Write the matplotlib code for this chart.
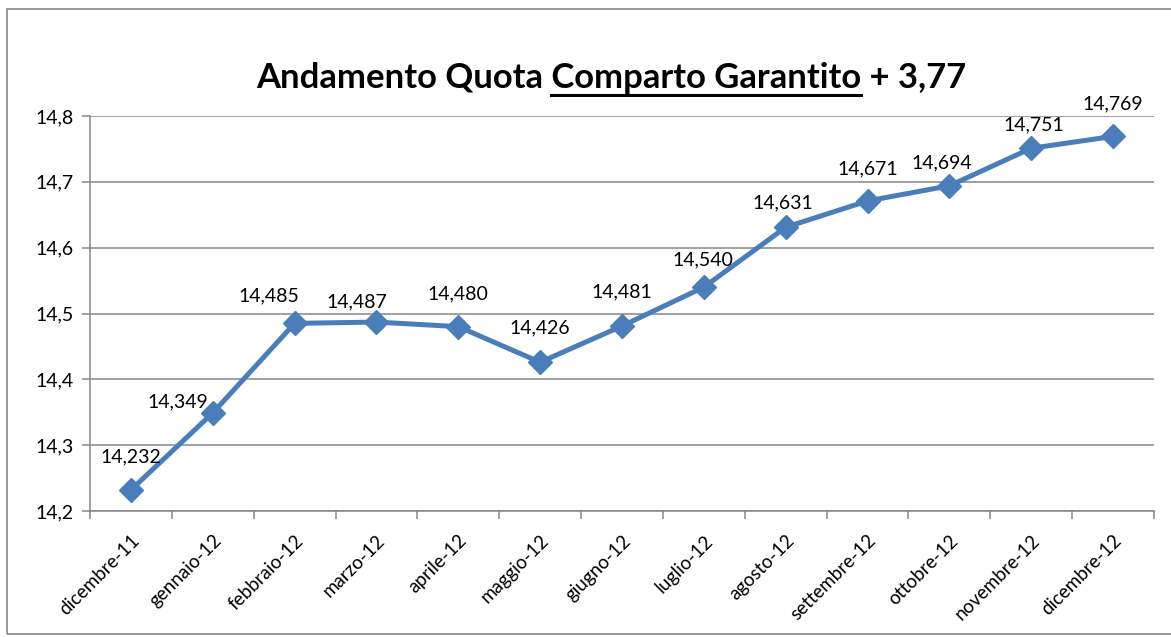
"""Andamento quota comparto garantito - line chart"""

import matplotlib
matplotlib.use("Agg")
import matplotlib.pyplot as plt
from matplotlib.patches import Rectangle
from matplotlib.lines import Line2D
from matplotlib.ticker import FuncFormatter, FixedLocator


months = ["dicembre-11", "gennaio-12", "febbraio-12", "marzo-12", "aprile-12",
          "maggio-12", "giugno-12", "luglio-12", "agosto-12", "settembre-12",
          "ottobre-12", "novembre-12", "dicembre-12"]
quota = [14.232, 14.349, 14.485, 14.487, 14.480, 14.426, 14.481,
         14.540, 14.631, 14.671, 14.694, 14.751, 14.769]
y_ticks = [14.2, 14.3, 14.4, 14.5, 14.6, 14.7, 14.8]

# label nudges (pixels) relative to each point
label_off = [(0, 33), (-35, 11), (-26, 28), (-20, 20), (0, 33), (0, 34), (0, 34),
             (-1, 27), (-3, 24), (0, 32), (-8, 23), (3, 23), (0, 33)]

FONT = "Lato"
BLUE = "#4A7EBB"
GREY = "#868686"
W, H = 1171, 637

plt.rcParams['font.family'] = [FONT, 'DejaVu Sans']

fig = plt.figure(figsize=(W / 100, H / 100), dpi=100)

# outer chart border
fig.patches.append(Rectangle((7 / W, 1 - 634 / H), 1.2, (634 - 9) / H,
                             transform=fig.transFigure, fill=False,
                             edgecolor=GREY, linewidth=1.2))

ax = fig.add_axes([90 / W, 1 - 511 / H, (1154 - 90) / W, (511 - 116) / H])

x = list(range(len(months)))
ax.plot(x, quota, color=BLUE, linewidth=3.6, marker="D", markersize=12.5,
        markerfacecolor=BLUE, markeredgecolor=BLUE, zorder=3)

for xi, v, (dx, dy) in zip(x, quota, label_off):
	ax.annotate(f"{v:.3f}".replace(".", ","), (xi, v), xytext=(dx, dy),
	            textcoords="offset pixels", ha="center", va="center",
	            fontsize=14, color="black")

ax.set_xlim(-0.5, len(months) - 0.5)
ax.set_ylim(14.2, 14.8)
ax.set_yticks(y_ticks)
ax.yaxis.set_major_formatter(FuncFormatter(lambda v, p: f"{v:.1f}".replace(".", ",")))
ax.grid(axis="y", color=GREY, linewidth=1.1)
ax.set_axisbelow(True)

ax.set_xticks(x)
ax.set_xticklabels(months, rotation=45, ha="right", va="top",
                   rotation_mode="anchor", fontsize=13.5)
ax.xaxis.set_minor_locator(FixedLocator([i - 0.5 for i in range(len(months) + 1)]))
ax.tick_params(axis="x", which="major", length=0, pad=15)
ax.tick_params(axis="x", which="minor", length=6, color=GREY, width=1.1)
ax.tick_params(axis="y", length=6, color=GREY, width=1.1, labelsize=14, pad=6)

for s in ["top", "right"]:
	ax.spines[s].set_visible(False)
for s in ["left", "bottom"]:
	ax.spines[s].set_color(GREY)
	ax.spines[s].set_linewidth(1.1)

# title with underlined middle part
parts = ["Andamento Quota", "Comparto Garantito", "+ 3,77"]
renderer = fig.canvas.get_renderer()


def text_w(s, size):
	t = fig.text(0, 0, s, fontsize=size, fontweight="bold")
	w = t.get_window_extent(renderer).width
	t.remove()
	return w


size = 22
full = " ".join(parts)
size = size * 707 / text_w(full, size)
space = text_w("a a", size) - text_w("aa", size)
w0 = text_w(parts[0], size)
w1 = text_w(parts[1], size)

x0 = 611 - text_w(full, size) / 2
base = 88
fig.text(x0 / W, 1 - base / H, full, fontsize=size, fontweight="bold",
         ha="left", va="baseline")
ux0 = x0 + w0 + space
fig.lines.append(Line2D([ux0 / W, (ux0 + w1) / W], [1 - 95 / H, 1 - 95 / H],
                        transform=fig.transFigure, color="black", linewidth=2.2))

plt.savefig("out.png", dpi=100)
